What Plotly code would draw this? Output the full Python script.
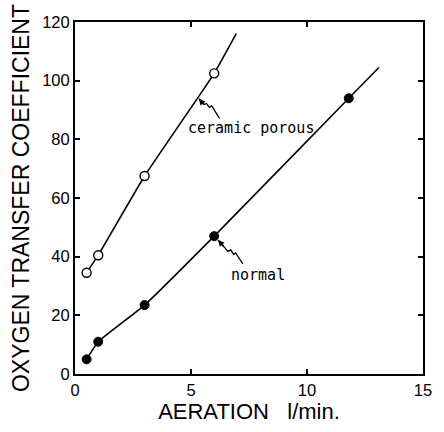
import plotly.graph_objects as go

# ---- data ----
ceramic_x = [0.5, 1, 3, 6]
ceramic_y = [34.5, 40.5, 67.5, 102.5]
normal_x = [0.5, 1, 3, 6, 11.8]
normal_y = [5, 11, 23.5, 47, 94]

# fitted curves drawn through the points (extended past the last point)
ceramic_curve_x = [0.5, 1, 3, 6, 6.95]
ceramic_curve_y = [34.5, 40.5, 67.5, 102.5, 116]
normal_curve_x = [0.5, 1, 3, 6, 11.8, 13.1]
normal_curve_y = [5, 11, 23.5, 47, 94, 104.5]

x_ticks = [0, 5, 10, 15]
y_ticks = [0, 20, 40, 60, 80, 100, 120]

labels = ["ceramic porous", "normal"]

LABEL_FONT = dict(family="DejaVu Sans Mono, Liberation Mono, monospace", size=15, color="black")
AXIS_FONT = "Liberation Sans, Arial, Helvetica, sans-serif"

fig = go.Figure()

fig.add_trace(go.Scatter(x=ceramic_curve_x, y=ceramic_curve_y, mode="lines",
                         line=dict(color="black", width=1.6, shape="spline", smoothing=0.4),
                         hoverinfo="skip", showlegend=False))
fig.add_trace(go.Scatter(x=normal_curve_x, y=normal_curve_y, mode="lines",
                         line=dict(color="black", width=1.6, shape="spline", smoothing=0.4),
                         hoverinfo="skip", showlegend=False))
fig.add_trace(go.Scatter(x=ceramic_x, y=ceramic_y, mode="markers", name=labels[0],
                         marker=dict(symbol="circle", size=9, color="white",
                                     line=dict(color="black", width=1.4)),
                         showlegend=False))
fig.add_trace(go.Scatter(x=normal_x, y=normal_y, mode="markers", name=labels[1],
                         marker=dict(symbol="circle", size=9, color="black",
                                     line=dict(color="black", width=1)),
                         showlegend=False))

# wavy leader lines
ceramic_leader = [(5.34, 93.85), (5.558, 91.88), (5.663, 92.22), (5.789, 90.86),
                  (5.893, 91.37), (6.229, 87.13)]
normal_leader = [(6.166, 45.69), (6.46, 42.97), (6.586, 41.78), (6.711, 42.29),
                 (6.837, 40.76), (6.921, 41.27), (7.236, 37.53)]

def path_of(pts):
    return "M " + " L ".join(f"{x},{y}" for x, y in pts)

shapes = []
for pts in (ceramic_leader, normal_leader):
    shapes.append(dict(type="path", xref="x", yref="y", path=path_of(pts),
                       line=dict(color="black", width=1.3)))

annotations = [
    dict(x=7.57, y=84.0, xref="x", yref="y", text=labels[0], showarrow=False, font=LABEL_FONT),
    dict(x=7.89, y=33.6, xref="x", yref="y", text=labels[1], showarrow=False, font=LABEL_FONT),
    dict(x=ceramic_leader[0][0], y=ceramic_leader[0][1], xref="x", yref="y", text="",
         showarrow=True, arrowhead=2, arrowsize=0.9, arrowwidth=1.4, arrowcolor="black",
         ax=6, ay=7, standoff=0),
    dict(x=normal_leader[0][0], y=normal_leader[0][1], xref="x", yref="y", text="",
         showarrow=True, arrowhead=2, arrowsize=0.9, arrowwidth=1.4, arrowcolor="black",
         ax=7, ay=8, standoff=0),
]

axis_common = dict(showline=True, linecolor="black", linewidth=2, mirror="allticks",
                   ticks="inside", ticklen=5, tickwidth=1.5, tickcolor="black",
                   showgrid=False, zeroline=False,
                   tickfont=dict(family=AXIS_FONT, size=16.5, color="black"))

fig.update_layout(
    width=444, height=432,
    margin=dict(l=75, r=11.7, t=21.7, b=57.5),
    paper_bgcolor="white", plot_bgcolor="white",
    showlegend=False,
    shapes=shapes, annotations=annotations,
    xaxis=dict(range=[0, 15], tickvals=x_ticks, ticktext=[str(v) for v in x_ticks],
               title=dict(text="AERATION\u00a0\u00a0\u00a0l/min.",
                          font=dict(family=AXIS_FONT, size=22, color="black"), standoff=4),
               **axis_common),
    yaxis=dict(range=[0, 120], tickvals=y_ticks, ticktext=[str(v) for v in y_ticks],
               title=dict(text="OXYGEN TRANSFER COEFFICIENT",
                          font=dict(family=AXIS_FONT, size=23, color="black"), standoff=6),
               **axis_common),
)

fig.write_html("out.html", config={"displayModeBar": False},
               post_script="document.body.style.margin='0';")
